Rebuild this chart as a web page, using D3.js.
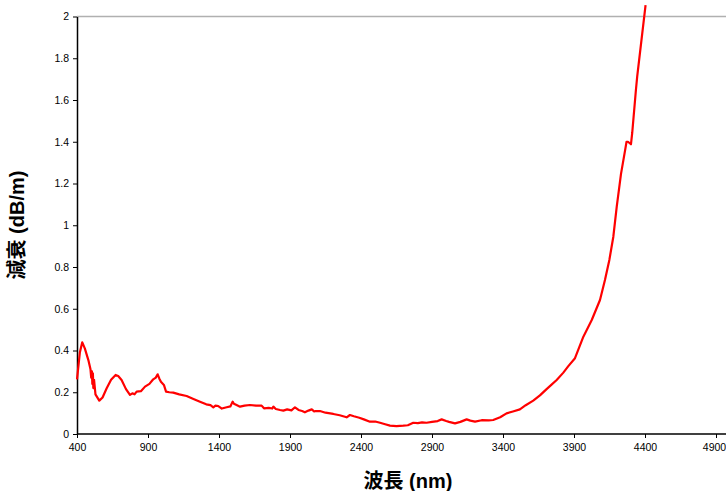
<!DOCTYPE html>
<html>
<head>
<meta charset="utf-8">
<script src="https://cdn.jsdelivr.net/npm/d3@7"></script>
<style>
  body { margin: 0; background: white; }
  text { font-family: "Liberation Sans", Arial, sans-serif; }
</style>
</head>
<body>
<div id="chart"></div>
<script>
// wavelength (nm) and attenuation (dB/m)
var wavelength = [400, 420, 437, 455, 480, 495, 500, 505, 508, 512, 515, 520, 530, 557, 580, 609, 640, 672, 690, 714, 745, 773, 790, 805,
    820, 850, 879, 910, 937, 955, 968, 980, 991, 1012, 1027, 1050, 1078, 1120,
    1172, 1220, 1266, 1310, 1340, 1360, 1375, 1395, 1420, 1454, 1480, 1496, 1505, 1520, 1548, 1580, 1618, 1660, 1700, 1717, 1750, 1775, 1783, 1800,
    1830, 1853, 1880, 1910, 1935, 1960, 1985, 2005, 2030, 2053, 2070, 2080, 2111, 2150, 2205, 2250, 2299, 2322, 2350, 2388, 2420, 2463, 2500,
    2534, 2570, 2604, 2650, 2698, 2730, 2768, 2800, 2830, 2862, 2900, 2940, 2968, 3000, 3020, 3062, 3100, 3144, 3170, 3203, 3250, 3300, 3331,
    3380, 3425, 3470, 3519, 3560, 3613, 3660, 3707, 3740, 3778, 3825, 3860, 3907, 3966, 4025, 4083, 4118, 4149, 4177, 4201, 4231, 4260, 4270,
    4280, 4301, 4310, 4336, 4345, 4404];
var attenuation = [0.262, 0.39, 0.439, 0.41, 0.354, 0.31, 0.27, 0.30, 0.24, 0.29, 0.22, 0.26, 0.19, 0.16, 0.175, 0.219, 0.26, 0.283, 0.278, 0.259, 0.215, 0.187, 0.195, 0.19,
    0.203, 0.205, 0.227, 0.24, 0.262, 0.27, 0.286, 0.265, 0.25, 0.235, 0.203, 0.2, 0.198, 0.19,
    0.182, 0.168, 0.155, 0.142, 0.138, 0.128, 0.136, 0.134, 0.122, 0.128, 0.132, 0.155, 0.145, 0.14, 0.131, 0.136, 0.139, 0.136, 0.136, 0.123, 0.125, 0.122, 0.131, 0.12,
    0.115, 0.112, 0.118, 0.113, 0.128, 0.115, 0.11, 0.104, 0.112, 0.118, 0.108, 0.110, 0.110, 0.102, 0.096, 0.09, 0.080, 0.091, 0.085, 0.078, 0.07, 0.059, 0.06,
    0.054, 0.047, 0.040, 0.038, 0.040, 0.042, 0.054, 0.052, 0.056, 0.054, 0.058, 0.062, 0.070, 0.062, 0.058, 0.051, 0.058, 0.070, 0.064, 0.059, 0.066, 0.065, 0.067,
    0.08, 0.099, 0.108, 0.118, 0.138, 0.160, 0.185, 0.215, 0.235, 0.259, 0.294, 0.325, 0.363, 0.466, 0.546, 0.642, 0.738, 0.834, 0.945, 1.089, 1.246, 1.36, 1.40,
    1.40, 1.388, 1.442, 1.648, 1.712, 2.055];

var xTicks = [400, 900, 1400, 1900, 2400, 2900, 3400, 3900, 4400, 4900];
var yTicks = [0, 0.2, 0.4, 0.6, 0.8, 1, 1.2, 1.4, 1.6, 1.8, 2];

var svgWidth = 726;
var svgHeight = 491;

var margin = { top: 16.5, right: 0, bottom: 57, left: 77 };
var width = svgWidth - margin.left - margin.right;
var height = svgHeight - margin.top - margin.bottom;

var svg = d3.select("#chart")
    .append("svg")
    .attr("width", svgWidth)
    .attr("height", svgHeight);

var chartGroup = svg.append("g")
    .attr("transform", `translate(${margin.left}, ${margin.top})`);

// scales
var xScale = d3.scaleLinear().domain([400, 4900]).range([0, 639]);
var yScale = d3.scaleLinear().domain([0, 2]).range([height, 0]);

// top border of the plot area
chartGroup.append("line")
    .attr("x1", 0).attr("x2", width)
    .attr("y1", 0).attr("y2", 0)
    .attr("stroke", "#b0b0b0")
    .attr("stroke-width", 1.5);

// axes
var bottomAxis = d3.axisBottom(xScale).tickValues(xTicks).tickSize(4).tickSizeOuter(0).tickPadding(6)
    .tickFormat(d3.format("d"));
var leftAxis = d3.axisLeft(yScale).tickValues(yTicks).tickSize(4).tickSizeOuter(0).tickPadding(4)
    .tickFormat(d3.format("~g"));

var xAxis = chartGroup.append("g")
    .attr("transform", `translate(0, ${height})`)
    .call(bottomAxis);
xAxis.select(".domain").attr("d", `M0,0H${width}`);

var yAxis = chartGroup.append("g").call(leftAxis);

[xAxis, yAxis].forEach(ax => {
    ax.selectAll("text")
        .style("font-family", "'Liberation Sans', Arial, sans-serif")
        .style("font-size", "10.5px")
        .attr("fill", "#000");
    ax.selectAll("line").attr("stroke", "#000");
    ax.select(".domain").attr("stroke", "#000").attr("stroke-width", 1.5);
});

// last x label sits against the right edge
xAxis.selectAll(".tick text").filter(d => d === 4900).attr("dx", "-2");

// data line
var points = wavelength.map((w, i) => [w, attenuation[i]]);
var line = d3.line()
    .x(d => xScale(d[0]))
    .y(d => yScale(d[1]));

chartGroup.append("path")
    .datum(points)
    .attr("d", line)
    .attr("fill", "none")
    .attr("stroke", "#ff0000")
    .attr("stroke-width", 2.2)
    .attr("stroke-linejoin", "round");

// axis titles
svg.append("text")
    .attr("x", 408)
    .attr("y", 488)
    .attr("text-anchor", "middle")
    .style("font-family", "'Liberation Sans', 'Noto Sans CJK JP', sans-serif")
    .style("font-size", "20px")
    .style("font-weight", "bold")
    .text("波長 (nm)");

svg.append("text")
    .attr("transform", "translate(24, 225) rotate(-90)")
    .attr("text-anchor", "middle")
    .style("font-family", "'Liberation Sans', 'Noto Sans CJK JP', sans-serif")
    .style("font-size", "20px")
    .style("font-weight", "bold")
    .text("減衰 (dB/m)");
</script>
</body>
</html>
